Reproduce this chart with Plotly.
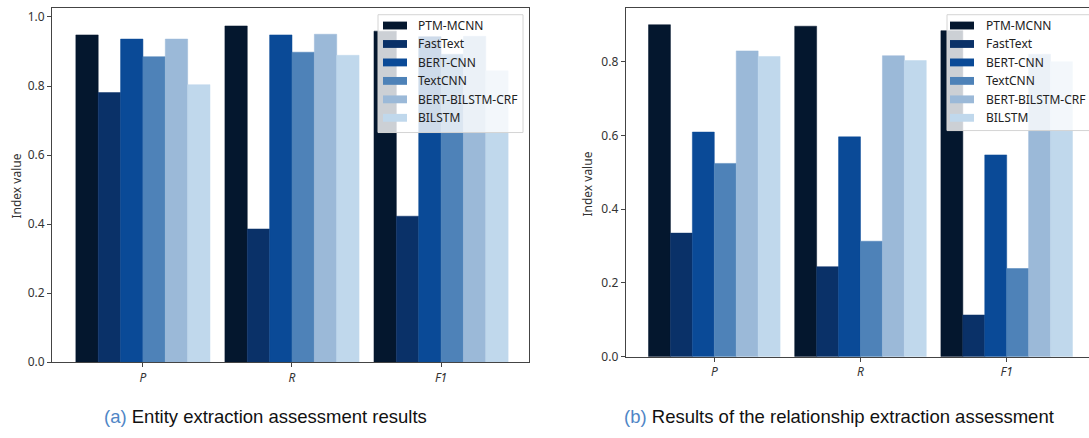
import plotly.graph_objects as go

# Evaluation metrics on the x axis
metrics = ["P", "R", "F1"]
metric_labels = ["<i>P</i>", "<i>R</i>", "<i>F1</i>"]

models = ["PTM-MCNN", "FastText", "BERT-CNN", "TextCNN", "BERT-BILSTM-CRF", "BILSTM"]
colors = ["#04172e", "#0a3168", "#0a4a97", "#4e82b8", "#9bb9d8", "#c0d8ec"]

# (a) entity extraction scores per model: [P, R, F1]
entity_ptm_mcnn = [0.948, 0.974, 0.959]
entity_fasttext = [0.781, 0.386, 0.423]
entity_bert_cnn = [0.936, 0.948, 0.943]
entity_textcnn = [0.885, 0.898, 0.892]
entity_bert_bilstm_crf = [0.936, 0.950, 0.944]
entity_bilstm = [0.804, 0.889, 0.844]

# (b) relationship extraction scores per model: [P, R, F1]
relation_ptm_mcnn = [0.900, 0.896, 0.884]
relation_fasttext = [0.335, 0.244, 0.113]
relation_bert_cnn = [0.609, 0.596, 0.547]
relation_textcnn = [0.524, 0.313, 0.239]
relation_bert_bilstm_crf = [0.829, 0.816, 0.820]
relation_bilstm = [0.814, 0.803, 0.800]

entity_scores = [entity_ptm_mcnn, entity_fasttext, entity_bert_cnn,
                 entity_textcnn, entity_bert_bilstm_crf, entity_bilstm]
relation_scores = [relation_ptm_mcnn, relation_fasttext, relation_bert_cnn,
                   relation_textcnn, relation_bert_bilstm_crf, relation_bilstm]

W, H = 1089, 438
UI_FONT = "Noto Sans, Open Sans, sans-serif"
TICK_FONT = dict(family=UI_FONT, size=12, color="#333333")
AXIS_COLOR = "#444444"


def px_x(v):
    return v / W


def px_y(v):
    return (H - v) / H


fig = go.Figure()

for name, color, vals in zip(models, colors, entity_scores):
    fig.add_trace(go.Bar(x=metrics, y=vals, name=name, marker_color=color,
                         marker_line=dict(color=color, width=0.5),
                         xaxis="x", yaxis="y", showlegend=False))

for name, color, vals in zip(models, colors, relation_scores):
    fig.add_trace(go.Bar(x=metrics, y=vals, name=name, marker_color=color,
                         marker_line=dict(color=color, width=0.5),
                         xaxis="x2", yaxis="y2", showlegend=False))

common_x = dict(type="category", tickmode="array", tickvals=metrics, ticktext=metric_labels,
                ticks="outside", ticklen=4, tickcolor=AXIS_COLOR, tickfont=TICK_FONT,
                showline=True, linecolor=AXIS_COLOR, linewidth=1, showgrid=False,
                zeroline=False, fixedrange=True)
common_y = dict(ticks="outside", ticklen=4, tickcolor=AXIS_COLOR, tickfont=TICK_FONT,
                showline=True, linecolor=AXIS_COLOR, linewidth=1, showgrid=False,
                zeroline=False, tickformat=".1f", dtick=0.2, fixedrange=True)

shapes = []
annotations = []


def add_legend(box_left, box_right, box_top, box_bottom, swatch_left, text_left, row_ys):
    """Semi-transparent framed legend drawn over the bars."""
    shapes.append(dict(type="rect", xref="paper", yref="paper", layer="above",
                       x0=px_x(box_left), x1=px_x(box_right),
                       y0=px_y(box_bottom), y1=px_y(box_top),
                       fillcolor="rgba(255,255,255,0.8)",
                       line=dict(color="#d4d4d4", width=1)))
    for name, color, ry in zip(models, colors, row_ys):
        shapes.append(dict(type="rect", xref="paper", yref="paper", layer="above",
                           x0=px_x(swatch_left), x1=px_x(swatch_left + 24),
                           y0=px_y(ry + 4), y1=px_y(ry - 4),
                           fillcolor=color, line=dict(width=0)))
        annotations.append(dict(text=name, x=px_x(text_left), y=px_y(ry),
                                xref="paper", yref="paper", xanchor="left", yanchor="middle",
                                showarrow=False,
                                font=dict(family=UI_FONT, size=12, color="#222222")))


rows = [26, 44.8, 63.6, 82.4, 101.2, 120]
add_legend(378, 523, 15, 135, 383, 416, rows)
add_legend(947, 1095, 15, 133, 950, 984, rows)

# y-axis titles
annotations.append(dict(text="Index value", x=px_x(17), y=px_y(190), xref="paper", yref="paper",
                        xanchor="center", yanchor="middle", textangle=-90, showarrow=False,
                        font=TICK_FONT))
annotations.append(dict(text="Index value", x=px_x(588), y=px_y(188), xref="paper", yref="paper",
                        xanchor="center", yanchor="middle", textangle=-90, showarrow=False,
                        font=TICK_FONT))

# sub-figure captions
caption_font = dict(family="Liberation Sans, Arial, sans-serif", size=18.5, color="#111111")
annotations.append(dict(text="<span style='color:#4f86c6'>(a)</span> Entity extraction assessment results",
                        x=px_x(265), y=px_y(424), xref="paper", yref="paper",
                        xanchor="center", yanchor="middle", showarrow=False, font=caption_font))
annotations.append(dict(text="<span style='color:#4f86c6'>(b)</span> Results of the relationship extraction assessment",
                        x=px_x(839), y=px_y(424), xref="paper", yref="paper",
                        xanchor="center", yanchor="middle", showarrow=False, font=caption_font))

fig.update_layout(
    width=W, height=H,
    margin=dict(l=0, r=0, t=0, b=0),
    paper_bgcolor="white", plot_bgcolor="white",
    barmode="group", bargap=0.1, bargroupgap=0,
    xaxis=dict(common_x, domain=[px_x(52), px_x(529)], range=[-0.61, 2.59], mirror=True, anchor="y"),
    yaxis=dict(common_y, domain=[px_y(369), px_y(8.5)], range=[0, 1.025], mirror=True, anchor="x"),
    xaxis2=dict(common_x, domain=[px_x(625.7), 1.0], range=[-0.606, 2.563], mirror=True, anchor="y2"),
    yaxis2=dict(common_y, domain=[px_y(363.3), px_y(8.3)], range=[0, 0.945], mirror=False, anchor="x2"),
    shapes=shapes,
    annotations=annotations,
    showlegend=False,
)

fig.write_html("out.html")
